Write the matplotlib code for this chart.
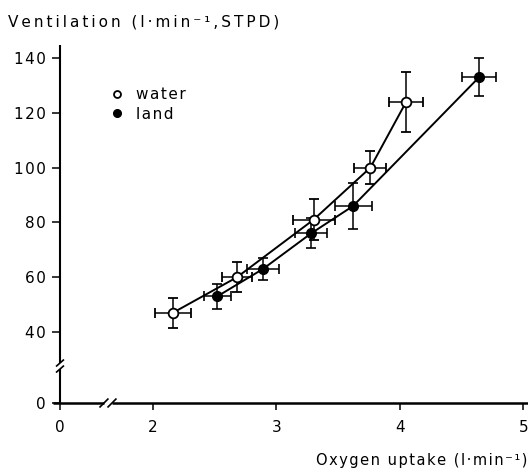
"""Ventilation vs oxygen uptake, water and land exercise."""

import matplotlib

matplotlib.use("Agg")
import matplotlib.pyplot as plt
from matplotlib.lines import Line2D

# data
water_vo2 = [2.16, 2.68, 3.30, 3.76, 4.05]
water_ve = [47, 60, 81, 100, 124]
water_vo2_err = [0.145, 0.12, 0.17, 0.13, 0.135]
water_ve_err = [5.5, 5.5, 7.5, 6.0, 10.8]

land_vo2 = [2.52, 2.89, 3.28, 3.62, 4.64]
land_ve = [53, 63, 76, 86, 133]
land_vo2_err = [0.11, 0.13, 0.13, 0.15, 0.14]
land_ve_err = [4.5, 4.0, 5.5, 8.5, 7.0]

x_ticks = [2, 3, 4, 5]
y_ticks = [40, 60, 80, 100, 120, 140]

# broken axes: the "0" positions are squeezed next to the data range
X0 = 1.247
Y0 = 14.09
XLIM = (X0, 5.037)
YLIM = (Y0, 144.8)
PX_X = 1 / 123.5  # data units per pixel
PX_Y = 1 / 2.74


def spaced(s, gap="\u2009"):
    # the scanned original uses wide letter spacing
    return gap.join(s)


fig = plt.figure(figsize=(5.28, 4.69), dpi=100)
ax = fig.add_axes([60 / 528, 66 / 469, 468 / 528, 358 / 469])
ax.set_xlim(*XLIM)
ax.set_ylim(*YLIM)

ek = dict(ecolor="black", elinewidth=1.1, capsize=3.8, capthick=1.2)
ax.errorbar(land_vo2, land_ve, xerr=land_vo2_err, yerr=land_ve_err, fmt="-o",
            color="black", mfc="black", mec="black", ms=7, lw=1.4, zorder=3, **ek)
ax.errorbar(water_vo2, water_ve, xerr=water_vo2_err, yerr=water_ve_err, fmt="-o",
            color="black", mfc="white", mec="black", mew=1.3, ms=7, lw=1.4, zorder=4, **ek)

# axes lines drawn by hand so they can carry break marks
for s in ax.spines.values():
    s.set_visible(False)
kw = dict(color="black", clip_on=False, solid_capstyle="butt")
yb1, yb2 = Y0 + 12.4, Y0 + 14.6
ax.plot([X0, X0], [Y0, yb1], lw=1.5, **kw)
ax.plot([X0, X0], [yb2, YLIM[1]], lw=1.5, **kw)
for yb in (yb1, yb2):
    ax.plot([X0 - 4 * PX_X, X0 + 4 * PX_X], [yb - 3.5 * PX_Y, yb + 3.5 * PX_Y], lw=1.2, **kw)
xb1, xb2 = 1.603, 1.668
ax.plot([X0 - 7 * PX_X, xb1], [Y0, Y0], lw=1.8, **kw)
ax.plot([xb2, XLIM[1]], [Y0, Y0], lw=1.8, **kw)
for xb in (xb1, xb2):
    ax.plot([xb - 4.5 * PX_X, xb + 4.5 * PX_X], [Y0 - 4.5 * PX_Y, Y0 + 4.5 * PX_Y], lw=1.2, **kw)

ax.set_xticks([X0] + x_ticks)
ax.set_xticklabels(["0"] + [str(t) for t in x_ticks])
ax.set_yticks([Y0] + y_ticks)
ax.set_yticklabels(["0"] + [spaced(str(t), "\u200a") for t in y_ticks])
ax.tick_params(axis="x", direction="out", length=5, width=1.1, pad=7, labelsize=11)
ax.tick_params(axis="y", direction="out", length=5.5, width=1.1, pad=5, labelsize=11)

handles = [
    Line2D([], [], ls="none", marker="o", mfc="white", mec="black", mew=1.3, ms=5, label=spaced("water", "\u200a")),
    Line2D([], [], ls="none", marker="o", mfc="black", mec="black", ms=5.5, label=spaced("land", "\u200a")),
]
ax.legend(handles=handles, loc="upper left", bbox_to_anchor=(49 / 468, 1 - 42 / 358),
          frameon=False, fontsize=11, handlelength=1.0, handletextpad=0.8,
          borderpad=0, borderaxespad=0, labelspacing=0.3)

fig.text(8 / 528, 1 - 22 / 469, spaced("Ventilation (l·min⁻¹,STPD)"), fontsize=11,
         ha="left", va="center")
fig.text(1 - 1 / 528, 1 - 460 / 469, spaced("Oxygen uptake (l·min⁻¹)", "\u200a"), fontsize=10.5,
         ha="right", va="center")

fig.savefig("out.png", dpi=100)
